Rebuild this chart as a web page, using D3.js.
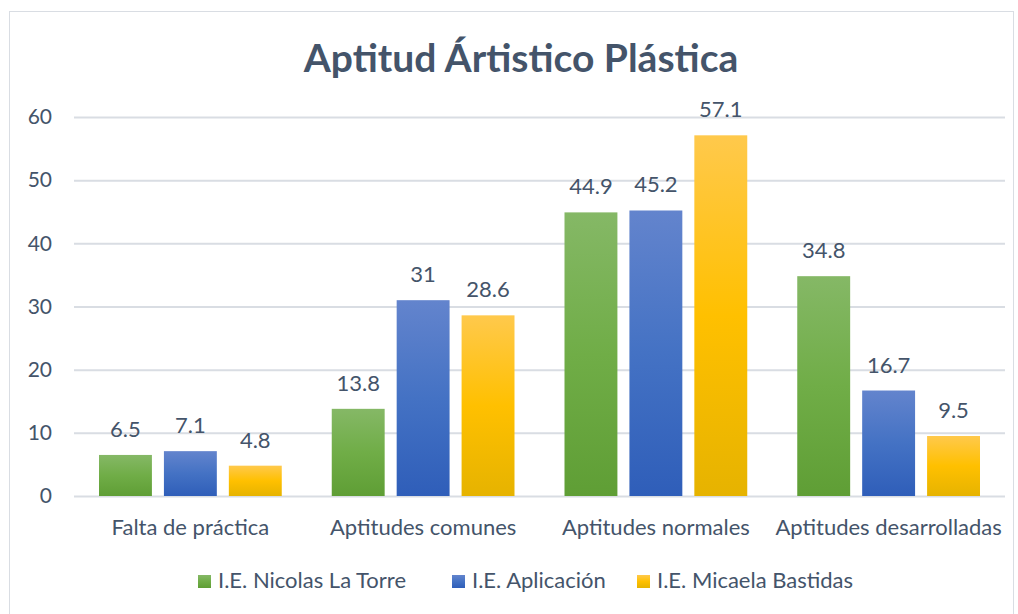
<!DOCTYPE html>
<html lang="es">
<head>
    <meta charset="UTF-8">
    <title>Aptitud Ártistico Plástica</title>
    <style>
        body { margin: 0; background: #fff; }
        text { font-family: Lato, "Open Sans", sans-serif; fill: #44546a; }
    </style>
</head>
<body>
<svg id="chart"></svg>

<script src="https://cdn.jsdelivr.net/npm/d3@7"></script>
<script>
    var width = 1018;
    var height = 614;

    // datos
    var categories = ["Falta de práctica", "Aptitudes comunes", "Aptitudes normales", "Aptitudes desarrolladas"];
    var series = ["I.E. Nicolas La Torre", "I.E. Aplicación", "I.E. Micaela Bastidas"];
    var nicolas = [6.5, 13.8, 44.9, 34.8];
    var aplicacion = [7.1, 31, 45.2, 16.7];
    var micaela = [4.8, 28.6, 57.1, 9.5];
    var yTicks = [0, 10, 20, 30, 40, 50, 60];

    var values = [nicolas, aplicacion, micaela];
    // colores: claro arriba, base al medio, oscuro abajo
    var colors = [
        ["#85b866", "#70ad47", "#5f9e35"],
        ["#6384cd", "#4472c4", "#2f5eb9"],
        ["#ffc94c", "#ffc000", "#e6b300"]
    ];

    var plot = {left: 74, right: 1005, top: 117, bottom: 496};

    var svg = d3.select("#chart")
        .attr("width", width)
        .attr("height", height);

    // gradientes
    var defs = svg.append("defs");
    colors.forEach(function(c, i) {
        var g = defs.append("linearGradient")
            .attr("id", "grad" + i)
            .attr("x1", 0).attr("y1", 0)
            .attr("x2", 0).attr("y2", 1);
        g.append("stop").attr("offset", "0%").attr("stop-color", c[0]);
        g.append("stop").attr("offset", "50%").attr("stop-color", c[1]);
        g.append("stop").attr("offset", "100%").attr("stop-color", c[2]);
    });

    // marco
    svg.append("rect")
        .attr("x", 9.5).attr("y", 11.5)
        .attr("width", 1004).attr("height", 620)
        .attr("fill", "none")
        .attr("stroke", "#d9dde3");

    // titulo
    svg.append("text")
        .attr("x", 521)
        .attr("y", 72)
        .attr("text-anchor", "middle")
        .style("font-size", "39px")
        .style("font-weight", "bold")
        .text("Aptitud Ártistico Plástica");

    var x0 = d3.scaleBand()
        .domain(categories)
        .range([plot.left, plot.right]);

    var x1 = d3.scaleBand()
        .domain(series)
        .range([25, x0.bandwidth() - 25])
        .paddingInner(0.185);

    var y = d3.scaleLinear()
        .domain([0, 60])
        .range([plot.bottom, plot.top]);

    // eje y con lineas de cuadricula
    var yAxis = svg.append("g")
        .attr("transform", "translate(" + plot.left + ",0)")
        .call(d3.axisLeft(y)
            .tickValues(yTicks)
            .tickSize(-(plot.right - plot.left))
            .tickPadding(22));
    yAxis.select(".domain").remove();
    yAxis.selectAll("line").attr("stroke", "#d9dde3").attr("stroke-width", 2);
    yAxis.selectAll("text").style("font-size", "21px").attr("fill", "#44546a");

    // eje x
    var xAxis = svg.append("g")
        .attr("transform", "translate(0," + plot.bottom + ")")
        .call(d3.axisBottom(x0).tickSize(0).tickPadding(23));
    xAxis.select(".domain").remove();
    xAxis.selectAll("text").style("font-size", "22px").attr("fill", "#44546a");

    // barras
    var groups = svg.selectAll(".grupo")
        .data(categories)
        .enter()
        .append("g")
        .attr("class", "grupo")
        .attr("transform", function(d) { return "translate(" + x0(d) + ",0)"; });

    groups.selectAll("rect")
        .data(function(d, ci) {
            return series.map(function(s, si) { return {s: s, si: si, v: values[si][ci]}; });
        })
        .enter()
        .append("rect")
        .attr("x", function(d) { return x1(d.s); })
        .attr("y", function(d) { return y(d.v); })
        .attr("width", x1.bandwidth())
        .attr("height", function(d) { return y(0) - y(d.v); })
        .attr("fill", function(d) { return "url(#grad" + d.si + ")"; });

    // etiquetas de datos
    groups.selectAll(".valor")
        .data(function(d, ci) {
            return series.map(function(s, si) { return {s: s, v: values[si][ci]}; });
        })
        .enter()
        .append("text")
        .attr("class", "valor")
        .attr("x", function(d) { return x1(d.s) + x1.bandwidth() / 2; })
        .attr("y", function(d) { return y(d.v) - 18; })
        .attr("text-anchor", "middle")
        .style("font-size", "22px")
        .text(function(d) { return d.v; });

    // leyenda
    var legendX = [198, 452, 637];
    var legend = svg.selectAll(".leyenda")
        .data(series)
        .enter()
        .append("g")
        .attr("class", "leyenda")
        .attr("transform", function(d, i) { return "translate(" + legendX[i] + ",575)"; });

    legend.append("rect")
        .attr("width", 13)
        .attr("height", 13)
        .attr("fill", function(d, i) { return "url(#grad" + i + ")"; });

    legend.append("text")
        .attr("x", 20)
        .attr("y", 13)
        .style("font-size", "22px")
        .text(function(d) { return d; });
</script>
</body>
</html>
